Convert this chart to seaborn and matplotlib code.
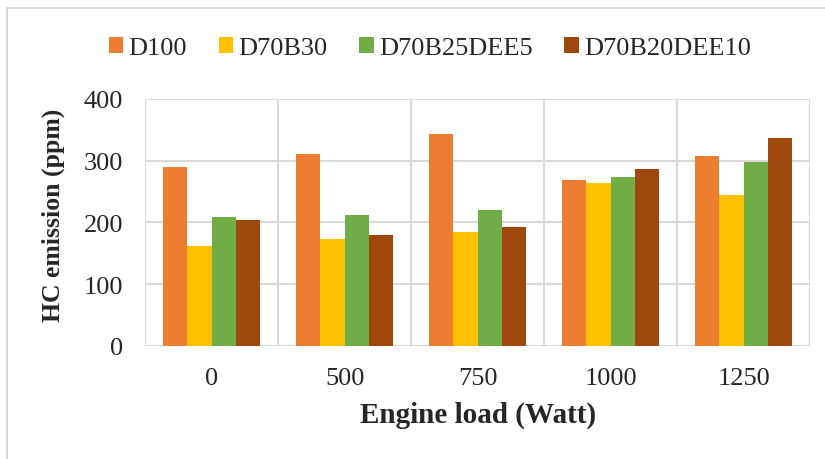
import numpy as np
import pandas as pd
import seaborn as sns
from matplotlib import pyplot as plt
from matplotlib.patches import Rectangle

# data
loads = ['0', '500', '750', '1000', '1250']
fuels = ['D100', 'D70B30', 'D70B25DEE5', 'D70B20DEE10']
d100 = [289, 310, 343, 268, 308]
d70b30 = [161, 173, 185, 263, 245]
d70b25dee5 = [209, 212, 220, 273, 297]
d70b20dee10 = [204, 179, 193, 286, 336]
colors = ['#ED7D31', '#FFC000', '#70AD47', '#9E480E']

df = pd.DataFrame({
    'load': loads * 4,
    'fuel': np.repeat(fuels, len(loads)),
    'hc': d100 + d70b30 + d70b25dee5 + d70b20dee10,
})

sns.set_style('white')
plt.rcParams['font.family'] = ['Liberation Serif', 'DejaVu Serif']

fig = plt.figure(figsize=(8.25, 4.6), dpi=100)
ax = fig.add_axes([0.176, 0.246, 0.806, 0.537])

sns.barplot(data=df, x='load', y='hc', hue='fuel', order=loads, hue_order=fuels,
            palette=colors, width=0.73, gap=0, saturation=1, ax=ax,
            edgecolor='none', linewidth=0, zorder=3)

ax.set_ylim(0, 400)
ax.set_xlim(-0.5, len(loads) - 0.5)
ax.set_yticks([0, 100, 200, 300, 400])
ax.yaxis.grid(True, color='#D9D9D9', linewidth=1.5, zorder=0)
for xv in np.arange(-0.5, len(loads), 1.0):
    ax.axvline(xv, color='#D9D9D9', linewidth=1.5, zorder=0)
for s in ax.spines.values():
    s.set_visible(False)
ax.tick_params(axis='both', length=0, labelsize=19)
ax.tick_params(axis='x', pad=15)
ax.tick_params(axis='y', pad=16)

ax.set_xlabel('Engine load (Watt)', fontsize=21, fontweight='bold')
ax.set_ylabel('HC emission (ppm)', fontsize=18.5, fontweight='bold')
ax.xaxis.set_label_coords(0.5, -0.223)
ax.yaxis.set_label_coords(-0.12, 0.534)

handles, labels = ax.get_legend_handles_labels()
ax.get_legend().remove()
fig.legend(handles, labels, loc='center', bbox_to_anchor=(0.521, 0.894), ncol=4,
           frameon=False, fontsize=19, handlelength=0.55, handleheight=0.55,
           handletextpad=0.2, columnspacing=1.2)

# outer chart frame
fig.patches.append(Rectangle((7 / 825, -0.1), 1.2, 1 - 9 / 460 + 0.1,
                             transform=fig.transFigure, fill=False,
                             edgecolor='#D9D9D9', linewidth=1.5))

fig.savefig('out.png', dpi=100)
